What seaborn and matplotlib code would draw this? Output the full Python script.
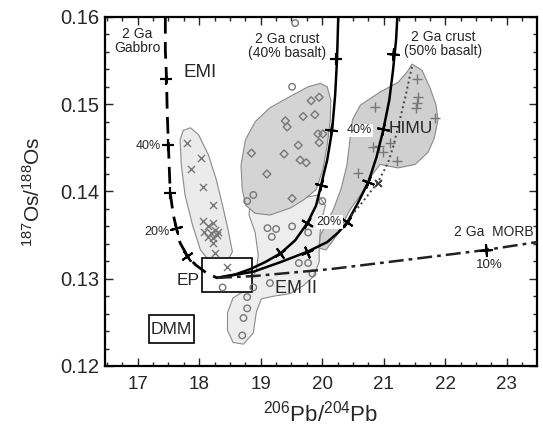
import numpy as np
import pandas as pd
import matplotlib
matplotlib.use("Agg")
import matplotlib.pyplot as plt
from matplotlib.markers import MarkerStyle
import seaborn as sns
from matplotlib.ticker import MultipleLocator, FormatStrFormatter

sns.set_style("ticks")
plt.rcParams['font.family'] = ['Liberation Sans', 'DejaVu Sans']
plt.rcParams['mathtext.default'] = 'regular'

# ---------------- mixing curves ----------------
gabbro_x = [17.45, 17.45, 17.47, 17.48, 17.50, 17.53, 17.58, 17.63, 17.69, 17.81, 17.94, 18.13, 18.29]
gabbro_y = [0.1600, 0.1562, 0.1529, 0.1493, 0.1453, 0.1398, 0.1373, 0.1358, 0.1341, 0.1326, 0.1316, 0.1306, 0.1301]
gabbro_tick_x = [17.46, 17.50, 17.53, 17.63, 17.81]
gabbro_tick_y = [0.1529, 0.1453, 0.1398, 0.1358, 0.1326]
gabbro_tick_ang = [0, 0, 0, 15, 35]

crust40_x = [18.29, 18.59, 18.83, 19.07, 19.32, 19.56, 19.76, 19.90, 19.98, 20.08, 20.16, 20.21, 20.24, 20.26]
crust40_y = [0.1301, 0.1305, 0.1311, 0.1319, 0.1329, 0.1344, 0.1364, 0.1384, 0.1407, 0.1436, 0.1470, 0.1511, 0.1551, 0.1600]
crust40_tick_x = [19.32, 19.76, 19.98, 20.15, 20.22]
crust40_tick_y = [0.1329, 0.1364, 0.1408, 0.1470, 0.1552]
crust40_tick_ang = [36, -31, -14, -6, 0]

crust50_x = [18.29, 18.88, 19.32, 19.76, 20.08, 20.26, 20.41, 20.58, 20.75, 20.88, 20.99, 21.09, 21.15, 21.20, 21.22]
crust50_y = [0.1301, 0.1308, 0.1319, 0.1331, 0.1342, 0.1353, 0.1365, 0.1387, 0.1411, 0.1439, 0.1470, 0.1505, 0.1539, 0.1574, 0.1600]
crust50_tick_x = [19.76, 20.41, 20.75, 20.99, 21.15]
crust50_tick_y = [0.1331, 0.1365, 0.1411, 0.1472, 0.1558]
crust50_tick_ang = [23, -35, -21, -11, -5]

dotted_x = [20.37, 20.61, 20.90, 21.07, 21.16, 21.26, 21.35, 21.41, 21.46]
dotted_y = [0.1363, 0.1384, 0.1410, 0.1433, 0.1453, 0.1482, 0.1508, 0.1528, 0.1544]
dotted_tick_x = [20.90]
dotted_tick_y = [0.1410]

morb_x = [18.29, 18.88, 20.13, 20.94, 21.75, 22.66, 23.49]
morb_y = [0.1301, 0.1303, 0.1311, 0.1318, 0.1325, 0.1333, 0.1342]
morb_tick_x = [22.66]
morb_tick_y = [0.1333]

# ---------------- data fields ----------------
emi_field_x = [17.69, 17.74, 17.86, 17.99, 18.15, 18.28, 18.38, 18.47, 18.54, 18.44, 18.18, 18.02, 17.89, 17.77, 17.71]
emi_field_y = [0.1459, 0.1470, 0.1473, 0.1465, 0.1442, 0.1413, 0.1384, 0.1356, 0.1331, 0.1317, 0.1319, 0.1333, 0.1362, 0.1396, 0.1430]

emii_field_x = [18.83, 19.07, 19.64, 19.93, 20.05, 19.98, 19.95, 19.95, 19.85, 19.69, 19.48, 19.21, 19.01, 18.93,
                18.88, 18.72, 18.55, 18.46, 18.46, 18.55, 18.75, 18.93, 18.96, 18.91, 18.81]
emii_field_y = [0.1390, 0.1384, 0.1392, 0.1396, 0.1384, 0.1365, 0.1339, 0.1319, 0.1302, 0.1292, 0.1283, 0.1280, 0.1277, 0.1262,
                0.1238, 0.1225, 0.1227, 0.1241, 0.1261, 0.1278, 0.1287, 0.1310, 0.1327, 0.1353, 0.1373]

dia_field_x = [19.97, 20.08, 20.14, 20.13, 20.08, 20.01, 19.90, 19.69, 19.48, 19.15, 18.91, 18.76, 18.70, 18.68, 18.75, 18.91, 19.15, 19.48, 19.77]
dia_field_y = [0.1524, 0.1520, 0.1505, 0.1482, 0.1453, 0.1425, 0.1402, 0.1390, 0.1381, 0.1373, 0.1375, 0.1384, 0.1402, 0.1430, 0.1459, 0.1480, 0.1496, 0.1509, 0.1520]

himu_field_x = [21.46, 21.62, 21.75, 21.85, 21.88, 21.82, 21.72, 21.51, 21.23, 20.94, 20.81, 20.65, 20.45, 20.24, 20.06,
                19.95, 19.97, 20.18, 20.31, 20.40, 20.45, 20.49, 20.62, 20.94, 21.23, 21.38]
himu_field_y = [0.1546, 0.1539, 0.1519, 0.1499, 0.1482, 0.1461, 0.1445, 0.1431, 0.1427, 0.1431, 0.1419, 0.1399, 0.1379, 0.1350, 0.1333,
                0.1335, 0.1350, 0.1379, 0.1404, 0.1430, 0.1459, 0.1482, 0.1499, 0.1514, 0.1525, 0.1537]

# ---------------- samples ----------------
cross_x = [17.81, 18.03, 17.86, 18.07, 18.23, 18.07, 18.15, 18.23, 18.08, 18.20, 18.26, 18.31, 18.15, 18.23, 18.29, 18.23, 18.25, 18.46]
cross_y = [0.1456, 0.1438, 0.1426, 0.1405, 0.1384, 0.1366, 0.1361, 0.1364, 0.1353, 0.1352, 0.1356, 0.1353, 0.1348, 0.1347, 0.1350, 0.1341, 0.1329, 0.1314]

circle_x = [19.56, 19.51, 18.88, 18.78, 20.00, 19.11, 19.25, 19.18, 19.51, 19.77, 19.62, 19.77, 19.84, 19.15, 18.88, 18.38, 18.78, 18.78, 18.72, 18.70]
circle_y = [0.1593, 0.1520, 0.1396, 0.1389, 0.1389, 0.1358, 0.1357, 0.1348, 0.1360, 0.1353, 0.1318, 0.1318, 0.1306, 0.1295, 0.1290, 0.1290, 0.1279, 0.1266, 0.1255, 0.1235]

diamond_x = [19.95, 19.82, 19.69, 19.88, 19.40, 19.43, 19.93, 20.01, 19.95, 19.61, 18.85, 19.38, 19.64, 19.74, 19.10, 19.51]
diamond_y = [0.1508, 0.1504, 0.1486, 0.1488, 0.1481, 0.1474, 0.1466, 0.1466, 0.1456, 0.1453, 0.1444, 0.1443, 0.1436, 0.1433, 0.1420, 0.1392]

plus_x = [21.54, 21.56, 21.54, 21.52, 20.86, 21.83, 20.83, 20.92, 20.99, 21.10, 21.22, 20.58]
plus_y = [0.1529, 0.1508, 0.1501, 0.1496, 0.1497, 0.1484, 0.1451, 0.1452, 0.1445, 0.1456, 0.1435, 0.1421]

# reservoir boxes (x0, x1, y0, y1)
ep_box = [18.05, 18.86, 0.1285, 0.1324]
dmm_box = [17.18, 17.91, 0.1226, 0.1258]

# ---------------- figure ----------------
fig = plt.figure(figsize=(5.43, 4.29), dpi=100)
ax = fig.add_axes([0.1934, 0.1469, 0.7956, 0.8135])

grey_edge = '#8a8a8a'
ax.fill(emi_field_x, emi_field_y, facecolor='#ebebeb', edgecolor=grey_edge, lw=0.8, zorder=1)
ax.fill(emii_field_x, emii_field_y, facecolor='#ededed', edgecolor=grey_edge, lw=0.8, zorder=1)
ax.fill(dia_field_x, dia_field_y, facecolor='#d4d4d4', edgecolor=grey_edge, lw=0.8, zorder=1.2)
ax.fill(himu_field_x, himu_field_y, facecolor='#d0d0d0', edgecolor=grey_edge, lw=0.8, zorder=1.2)

for b in (ep_box, dmm_box):
    ax.add_patch(plt.Rectangle((b[0], b[2]), b[1] - b[0], b[3] - b[2], facecolor='white',
                               edgecolor='black', lw=1.2, zorder=2))

mk = '#777777'
sns.scatterplot(x=cross_x, y=cross_y, marker='x', s=26, color=mk, linewidth=1.0, ax=ax, zorder=3)
sns.scatterplot(x=plus_x, y=plus_y, marker='+', s=55, color=mk, linewidth=1.0, ax=ax, zorder=3)
sns.scatterplot(x=circle_x, y=circle_y, marker='o', s=22, facecolor='none', edgecolor=mk, linewidth=1.0, ax=ax, zorder=3)
sns.scatterplot(x=diamond_x, y=diamond_y, marker='D', s=16, facecolor='none', edgecolor=mk, linewidth=1.0, ax=ax, zorder=3)

# curves
sns.lineplot(x=gabbro_x, y=gabbro_y, sort=False, estimator=None, color='black', lw=2.0,
             dashes=False, ax=ax, zorder=4).lines[-1].set_dashes([6, 3])
sns.lineplot(x=crust40_x, y=crust40_y, sort=False, estimator=None, color='black', lw=1.8, ax=ax, zorder=4)
sns.lineplot(x=crust50_x, y=crust50_y, sort=False, estimator=None, color='black', lw=1.8, ax=ax, zorder=4)
l = sns.lineplot(x=dotted_x, y=dotted_y, sort=False, estimator=None, color='#444444', lw=1.4, ax=ax, zorder=4).lines[-1]
l.set_linestyle((0, (1, 1.6)))
l = sns.lineplot(x=morb_x, y=morb_y, sort=False, estimator=None, color='#222222', lw=1.8, ax=ax, zorder=4).lines[-1]
l.set_linestyle((0, (6, 2, 1.5, 2)))

def ticks(xs, ys, angs, size=9, color='black', lw=1.5):
    for x, y, a in zip(xs, ys, angs):
        m = MarkerStyle((4, 2, a))
        ax.plot([x], [y], marker=m, ms=size, mec=color, mew=lw, ls='none', zorder=5)

ticks(gabbro_tick_x, gabbro_tick_y, gabbro_tick_ang)
ticks(crust40_tick_x, crust40_tick_y, crust40_tick_ang)
ticks(crust50_tick_x, crust50_tick_y, crust50_tick_ang)
ticks(morb_tick_x, morb_tick_y, [5])
ticks(dotted_tick_x, dotted_tick_y, [45], size=7, color='#444444', lw=1.0)

# labels
small = 10
ax.text(17.0, 0.1573, '2 Ga\nGabbro', ha='center', va='center', fontsize=small, linespacing=1.0, zorder=6)
ax.text(18.02, 0.1536, 'EMI', ha='center', va='center', fontsize=13.5, zorder=6)
ax.text(19.43, 0.1567, '2 Ga crust\n(40% basalt)', ha='center', va='center', fontsize=small, linespacing=1.0, zorder=6)
ax.text(21.96, 0.1569, '2 Ga crust\n(50% basalt)', ha='center', va='center', fontsize=small, linespacing=1.0, zorder=6)
ax.text(21.44, 0.1472, 'HIMU', ha='center', va='center', fontsize=12.5, zorder=6)
ax.text(20.60, 0.1470, '40%', ha='center', va='center', fontsize=9,
        bbox=dict(facecolor='white', edgecolor='none', pad=0.6), zorder=6)
ax.text(20.11, 0.1365, '20%', ha='center', va='center', fontsize=9,
        bbox=dict(facecolor='white', edgecolor='none', pad=0.6), zorder=6)
ax.text(17.17, 0.1452, '40%', ha='center', va='center', fontsize=9, zorder=6)
ax.text(17.32, 0.1353, '20%', ha='center', va='center', fontsize=9, zorder=6)
ax.text(17.82, 0.1298, 'EP', ha='center', va='center', fontsize=12.5, zorder=6)
ax.text(19.58, 0.1289, 'EM II', ha='center', va='center', fontsize=13, zorder=6)
ax.text(17.545, 0.1242, 'DMM', ha='center', va='center', fontsize=12.5, zorder=6)
ax.text(22.79, 0.1353, '2 Ga  MORB', ha='center', va='center', fontsize=10, zorder=6)
ax.text(22.72, 0.1316, '10%', ha='center', va='center', fontsize=9.5, zorder=6)

# axes
ax.set_xlim(16.47, 23.49)
ax.set_ylim(0.12, 0.16)
ax.xaxis.set_major_locator(MultipleLocator(1))
ax.xaxis.set_minor_locator(MultipleLocator(0.25))
ax.yaxis.set_major_locator(MultipleLocator(0.01))
ax.yaxis.set_minor_locator(MultipleLocator(0.002))
ax.yaxis.set_major_formatter(FormatStrFormatter('%.2f'))
ax.tick_params(which='both', direction='in', top=True, right=True, width=1.0)
ax.tick_params(which='major', length=6)
ax.tick_params(axis='x', which='major', labelsize=13.5, pad=7)
ax.tick_params(axis='y', which='major', labelsize=14.5, pad=4)
ax.tick_params(which='minor', length=3)
for s in ax.spines.values():
    s.set_linewidth(1.6)
    s.set_color('black')
ax.set_xlabel('$^{206}$Pb/$^{204}$Pb', fontsize=16, labelpad=6)
ax.set_ylabel('$^{187}$Os/$^{188}$Os', fontsize=15, labelpad=12)

fig.savefig('out.png', dpi=100)
